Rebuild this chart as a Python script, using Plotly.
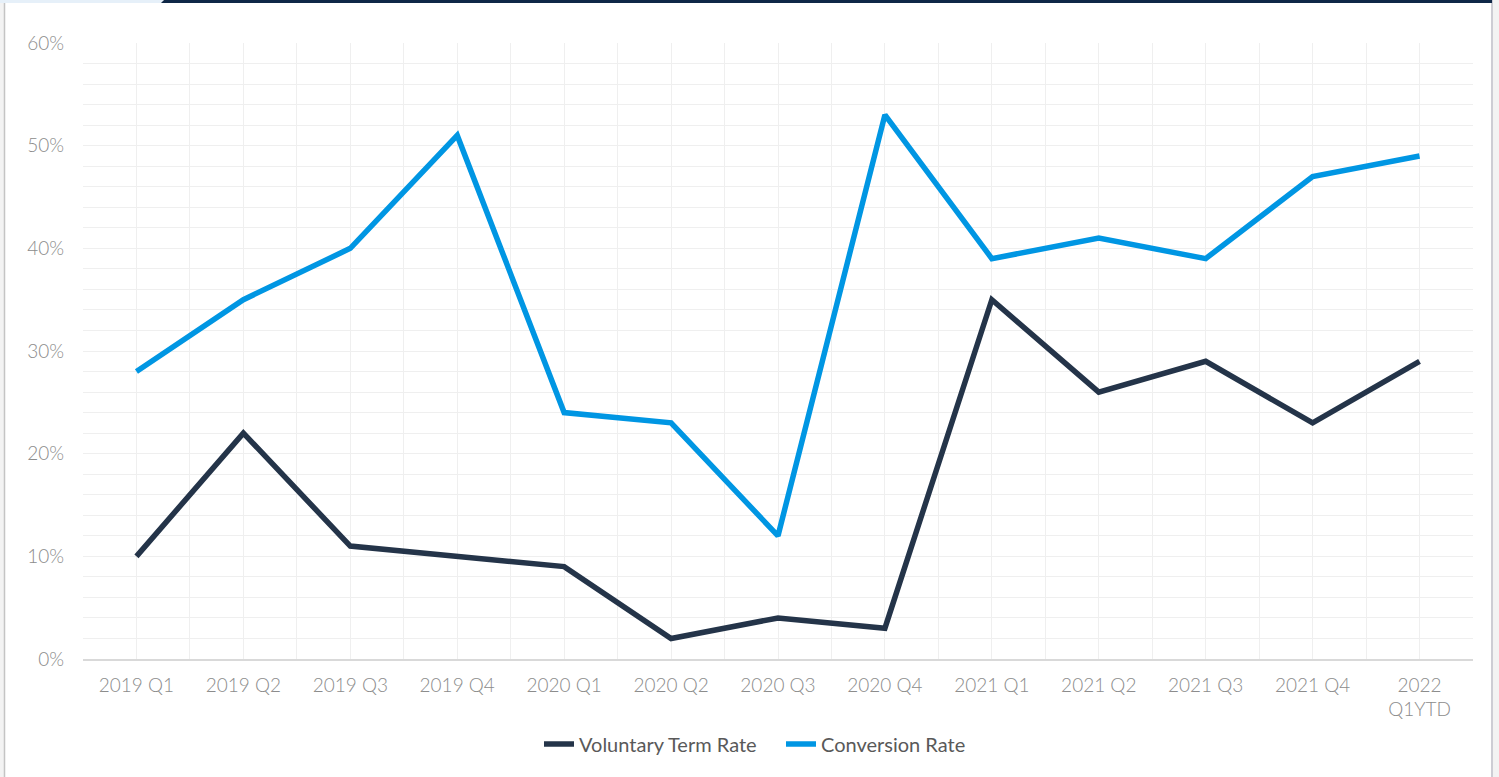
import plotly.graph_objects as go

# Quarterly rates (%)
quarters = ["2019 Q1", "2019 Q2", "2019 Q3", "2019 Q4",
            "2020 Q1", "2020 Q2", "2020 Q3", "2020 Q4",
            "2021 Q1", "2021 Q2", "2021 Q3", "2021 Q4",
            "2022<br>Q1YTD"]
voluntary_term_rate = [10, 22, 11, 10, 9, 2, 4, 3, 35, 26, 29, 23, 29]
conversion_rate = [28, 35, 40, 51, 24, 23, 12, 53, 39, 41, 39, 47, 49]
y_ticks = [0, 10, 20, 30, 40, 50, 60]

W, H = 1499, 777
ML, MR, MT, MB = 83, 26, 43, 118
PW, PH = W - ML - MR, H - MT - MB


def px_x(p):
    return (p - ML) / PW


def px_y(p):
    return (H - MB - p) / PH


xs = list(range(len(quarters)))

fig = go.Figure()
fig.add_trace(go.Scatter(
    x=xs, y=voluntary_term_rate, mode="lines", name="Voluntary Term Rate",
    line=dict(color="#243449", width=5.5),
))
fig.add_trace(go.Scatter(
    x=xs, y=conversion_rate, mode="lines", name="Conversion Rate",
    line=dict(color="#0096E3", width=5.5),
))

grid = "#efefef"
tick_font = dict(family="Lato", size=19, color="#8c8c8c", weight=300)

fig.update_xaxes(
    range=[-0.5, len(quarters) - 0.5],
    tickmode="array", tickvals=xs, ticktext=quarters,
    showgrid=True, gridcolor=grid, gridwidth=1,
    minor=dict(tick0=-0.5, dtick=0.5, showgrid=True, gridcolor=grid, gridwidth=1),
    showline=True, linecolor="#d9d9d9", linewidth=1.5,
    ticks="", tickfont=tick_font, ticklabelstandoff=8,
    zeroline=False, fixedrange=True,
)
fig.update_yaxes(
    range=[0, 60], tickmode="array", tickvals=y_ticks,
    ticktext=[f"{v}%" for v in y_ticks],
    showgrid=True, gridcolor=grid, gridwidth=1,
    minor=dict(dtick=2, showgrid=True, gridcolor=grid, gridwidth=1),
    showline=False, zeroline=False,
    ticks="", tickfont=tick_font, ticklabelstandoff=18,
)

# page frame: side borders and header strip
shapes = [
    dict(type="rect", x0=px_x(0), x1=px_x(4), y0=px_y(H), y1=px_y(0),
         fillcolor="#f3f3f3", line=dict(width=0)),
    dict(type="line", x0=px_x(4.5), x1=px_x(4.5), y0=px_y(H), y1=px_y(3),
         line=dict(color="#c4c4c4", width=1.5)),
    dict(type="rect", x0=px_x(1493), x1=px_x(W), y0=px_y(H), y1=px_y(0),
         fillcolor="#f3f3f3", line=dict(width=0)),
    dict(type="line", x0=px_x(1492), x1=px_x(1492), y0=px_y(H), y1=px_y(0),
         line=dict(color="#cdcdd4", width=2)),
    dict(type="rect", x0=px_x(0), x1=px_x(163), y0=px_y(3), y1=px_y(0),
         fillcolor="#e6f0f9", line=dict(width=0)),
    dict(type="path",
         path=f"M {px_x(161)},{px_y(3)} L {px_x(164)},{px_y(0)} L {px_x(1492)},{px_y(0)} "
              f"L {px_x(1492)},{px_y(3)} Z",
         fillcolor="#0f2747", line=dict(width=0)),
]
for s in shapes:
    s.update(xref="paper", yref="paper", layer="above")

fig.update_layout(
    width=W, height=H,
    margin=dict(l=ML, r=MR, t=MT, b=MB, pad=0),
    paper_bgcolor="white", plot_bgcolor="white",
    shapes=shapes,
    showlegend=True,
    legend=dict(
        orientation="h", x=px_x(539), xanchor="left",
        y=px_y(744), yanchor="middle",
        font=dict(family="Lato", size=20, color="#595959"),
        itemwidth=30, traceorder="normal",
        entrywidth=197, entrywidthmode="pixels",
        bgcolor="rgba(0,0,0,0)",
    ),
    font=dict(family="Lato"),
)

fig.write_html("out.html", config={"displayModeBar": False})
